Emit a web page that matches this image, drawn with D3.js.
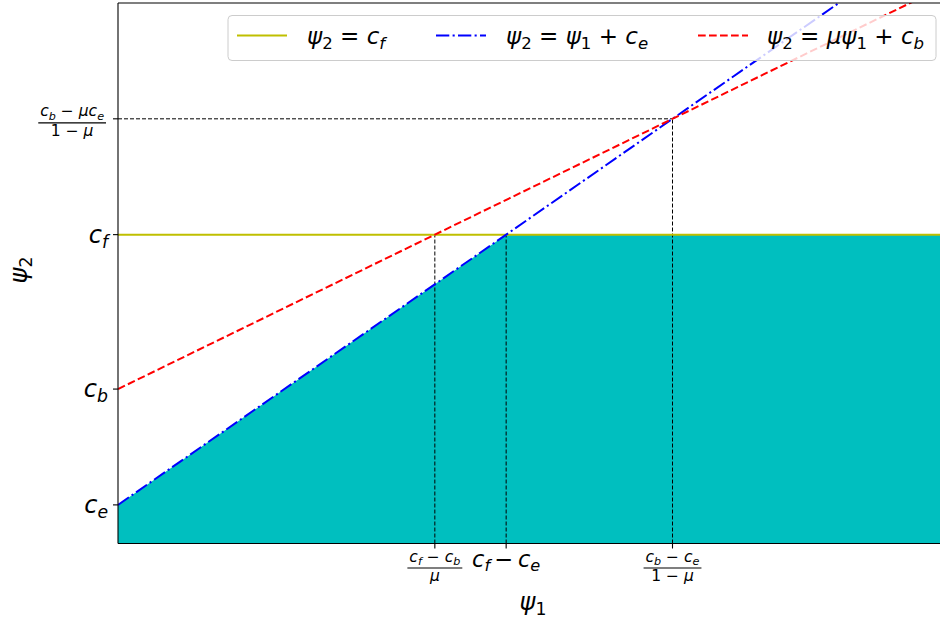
<!DOCTYPE html>
<html><head><meta charset="utf-8">
<script src="https://cdn.jsdelivr.net/npm/d3@7"></script>
<style>
body{margin:0;background:#fff}
text{font-family:"DejaVu Sans";white-space:pre;fill:#000}
</style>
</head><body>
<svg id="c" width="940" height="619"></svg>
<script>
// ---- data ----
const paramNames = ["ce", "cb", "cf", "mu"];
const paramValues = [0.5, 2, 4, 0.7];
const xDomain = [0, 8];
const yDomain = [0, 7];
// feasible region boundary knots (psi1, psi2)
const regionPsi1 = [0, 3.5, 8];
const regionPsi2 = [0.5, 4, 4];
// lines evaluated at the ends of the psi1 range
const linePsi1 = [0, 8];
const lineCf = [4, 4];          // psi2 = cf
const lineCe = [0.5, 8.5];      // psi2 = psi1 + ce
const lineCb = [2, 7.6];        // psi2 = mu*psi1 + cb
// ticks
const yTickValues = [0.5, 2, 4, 5.5];
const xTickValues = [2.857, 3.5, 5];
// guide lines (dashed black): [x1,y1,x2,y2] in data units
const guideX1 = [0, 5, 2.857, 3.5];
const guideY1 = [5.5, 0, 0, 0];
const guideX2 = [5, 5, 2.857, 3.5];
const guideY2 = [5.5, 5.5, 4, 4];

const yTickLabels = [
  {parts: [["c","i"],["e","si"]]},
  {parts: [["c","i"],["b","si"]]},
  {parts: [["c","i"],["f","si"]]},
  {num: [["c","i"],["b","si"],[" − ","n"],["μc","i"],["e","si"]], den: [["1 − ","n"],["μ","i"]]}
];
const xTickLabels = [
  {num: [["c","i"],["f","si"],[" − ","n"],["c","i"],["b","si"]], den: [["μ","i"]]},
  {parts: [["c","i"],["f","si"],["\u2009−\u2009","n"],["c","i"],["e","si"]]},
  {num: [["c","i"],["b","si"],[" − ","n"],["c","i"],["e","si"]], den: [["1 − ","n"],["μ","i"]]}
];
const legendLabels = [
  [["ψ","i"],["2","sn"],[" = ","n"],["c","i"],["f","si"]],
  [["ψ","i"],["2","sn"],[" = ","n"],["ψ","i"],["1","sn"],[" + ","n"],["c","i"],["e","si"]],
  [["ψ","i"],["2","sn"],[" = ","n"],["μψ","i"],["1","sn"],[" + ","n"],["c","i"],["b","si"]]
];
const legendColors = ["#bfbf00", "#0000ff", "#ff0000"];
const legendDash = [null, "13.3,3.3,2.1,3.3", "7.7,3.3"];

// ---- drawing ----
const svg = d3.select("#c");
const L = 118, T = 3, B = 543.5, R = 940;
const x = d3.scaleLinear().domain(xDomain).range([L, L + 8 * 110.9]);
const y = d3.scaleLinear().domain(yDomain).range([B, T]);

svg.append("defs").append("clipPath").attr("id","clip")
  .append("rect").attr("x", L).attr("y", T).attr("width", R - L).attr("height", B - T);
const plot = svg.append("g").attr("clip-path","url(#clip)");

function mathText(g, parts, px, py, size, anchor) {
  const t = g.append("text").attr("x", px).attr("y", py)
    .attr("font-size", size).attr("text-anchor", anchor || "start");
  let shift = 0;
  parts.forEach(([s, st]) => {
    const sp = t.append("tspan").text(s);
    const sub = st.startsWith("s");
    const it = st.endsWith("i");
    if (it) sp.attr("font-style", "oblique");
    const target = sub ? size * 0.22 : 0;
    if (target !== shift) { sp.attr("dy", target - shift); shift = target; }
    if (sub) sp.attr("font-size", size * 0.72);
  });
  return t;
}
function fracText(g, num, den, cx, barY, size, anchor) {
  const tn = mathText(g, num, cx, barY - 6.5, size, "middle");
  const td = mathText(g, den, cx, barY + 13, size, "middle");
  const wn = tn.node().getComputedTextLength(), wd = td.node().getComputedTextLength();
  const w = Math.max(wn, wd) + 4;
  let shiftX = 0;
  if (anchor === "end") shiftX = -w / 2;
  tn.attr("x", cx + shiftX); td.attr("x", cx + shiftX);
  g.append("line").attr("x1", cx + shiftX - w/2).attr("x2", cx + shiftX + w/2)
    .attr("y1", barY).attr("y2", barY).attr("stroke", "#000").attr("stroke-width", 1.2);
}

// region
const region = regionPsi1.map((v, i) => [v, regionPsi2[i]]);
plot.append("path")
  .attr("d", d3.area().x(d => x(d[0])).y0(y(0)).y1(d => y(d[1]))(region))
  .attr("fill", "#00bfbf");

// guides
guideX1.forEach((v, i) => {
  plot.append("line")
    .attr("x1", x(v)).attr("y1", y(guideY1[i])).attr("x2", x(guideX2[i])).attr("y2", y(guideY2[i]))
    .attr("stroke", "#000").attr("stroke-width", 1).attr("stroke-dasharray", "4,2");
});

// lines
const line = d3.line().x(d => x(d[0])).y(d => y(d[1]));
[lineCf, lineCe, lineCb].forEach((vals, i) => {
  const p = plot.append("path").attr("d", line(linePsi1.map((v, j) => [v, vals[j]])))
    .attr("fill", "none").attr("stroke", legendColors[i]).attr("stroke-width", 2);
  if (legendDash[i]) p.attr("stroke-dasharray", legendDash[i]);
});

// spines
const ax = svg.append("g");
ax.append("line").attr("x1", L).attr("x2", L).attr("y1", T).attr("y2", B).attr("stroke", "#000").attr("stroke-width", 1.1);
ax.append("line").attr("x1", L).attr("x2", R).attr("y1", T).attr("y2", T).attr("stroke", "#000").attr("stroke-width", 1.1);
ax.append("line").attr("x1", L).attr("x2", R).attr("y1", B).attr("y2", B).attr("stroke", "#000").attr("stroke-width", 1.1);

// y ticks
yTickValues.forEach((v, i) => {
  const py = y(v);
  ax.append("line").attr("x1", L - 5).attr("x2", L).attr("y1", py).attr("y2", py).attr("stroke", "#000").attr("stroke-width", 1.1);
  const lab = yTickLabels[i];
  if (lab.parts) mathText(ax, lab.parts, L - 10, py + 8, 24, "end");
  else fracText(ax, lab.num, lab.den, L - 12, py + 4, 15.5, "end");
});
// x ticks
xTickValues.forEach((v, i) => {
  const px = x(v);
  ax.append("line").attr("x1", px).attr("x2", px).attr("y1", B).attr("y2", B + 5).attr("stroke", "#000").attr("stroke-width", 1.1);
  const lab = xTickLabels[i];
  if (lab.parts) mathText(ax, lab.parts, px, B + 23, 22.5, "middle");
  else fracText(ax, lab.num, lab.den, px, B + 24.5, 15.5, "middle");
});

// axis labels
mathText(svg, [["ψ","i"],["1","sn"]], 533, 610, 24, "middle");
mathText(svg.append("g").attr("transform", "translate(27,270) rotate(-90)"), [["ψ","i"],["2","sn"]], 0, 0, 24, "middle");

// legend
const lg = svg.append("g");
lg.append("rect").attr("x", 228).attr("y", 15.5).attr("width", 708).attr("height", 45).attr("rx", 4)
  .attr("fill", "#fff").attr("fill-opacity", 0.8).attr("stroke", "#cccccc").attr("stroke-width", 1);
const lgLineX = [237, 436, 698];
const lgTextX = [307, 506, 767];
legendLabels.forEach((parts, i) => {
  const l = lg.append("line").attr("x1", lgLineX[i]).attr("x2", lgLineX[i] + 50).attr("y1", 35.5).attr("y2", 35.5)
    .attr("stroke", legendColors[i]).attr("stroke-width", 2);
  if (legendDash[i]) l.attr("stroke-dasharray", legendDash[i]);
  mathText(lg, parts, lgTextX[i], 43.5, 23, "start");
});
</script>
</body></html>
